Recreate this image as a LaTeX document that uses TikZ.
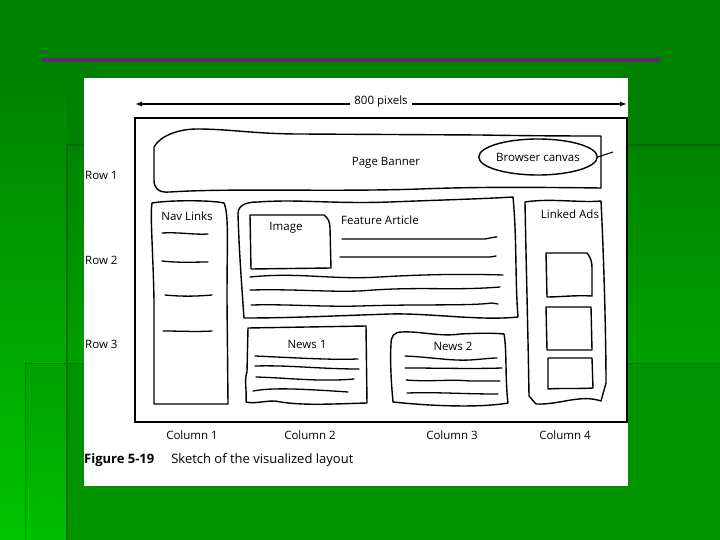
\documentclass[tikz,border=0pt]{standalone}
\usepackage{fontspec}
\setmainfont{Open Sans}
\usetikzlibrary{arrows.meta,shapes.geometric}
\definecolor{gA}{HTML}{008000}
\definecolor{gB}{HTML}{00A000}
\definecolor{gC}{HTML}{00C400}
\definecolor{gD}{HTML}{009200}
\definecolor{gLine}{HTML}{006A00}
\definecolor{purp}{HTML}{5E2A6E}
\tikzset{
  sk/.style={line width=1.4pt, line join=round, line cap=round},
  skl/.style={line width=1.3pt, line cap=round},
  lbl/.style={font=\fontsize{11.5}{12}\selectfont, inner sep=1pt},
}
\begin{document}
\begin{tikzpicture}[x=1pt,y=-1pt]
\useasboundingbox (0,0) rectangle (720,540);
% background
\fill[gA] (0,0) rectangle (720,540);
\shade[top color=gA, bottom color=gC] (0,60) rectangle (67,540);
\shade[top color=gA!90!gB, bottom color=gB] (67,145) rectangle (720,363);
\shade[top color=gD, bottom color=gD!80!gB] (67,363) rectangle (720,540);
\shade[top color=gB, bottom color=gC!85!gB] (25,363) rectangle (67,540);
\draw[gLine, line width=1.2pt] (67,540) -- (67,145) -- (720,145);
\draw[gLine!70!gB, line width=0.8pt] (25,540) -- (25,363) -- (720,363);
% purple rule
\fill[purp] (42,58) rectangle (660,62);
% white panel
\fill[white] (84,78) rectangle (628,486);

% outer canvas
\draw[line width=1.5pt] (135,118) rectangle (627,422);
% width arrow
\node[lbl] (px) at (381,102) {800 pixels};
\coordinate (aL) at (135,104);
\coordinate (aR) at (627,104);
\draw[line width=1.3pt, -{Latex[length=7pt,width=5pt]}] (px.west |- aL) ++(-3,0) -- (aL);
\draw[line width=1.3pt, -{Latex[length=7pt,width=5pt]}] (px.east |- aR) ++(3,0) -- (aR);

% banner
\draw[sk] (154,147) .. controls (160,136) and (178,129) .. (197,129)
  .. controls (230,129) and (255,134) .. (300,134) -- (480,135)
  .. controls (540,136) and (580,136) .. (601,136) -- (601,188)
  .. controls (520,187) and (470,187) .. (420,189)
  .. controls (330,192) and (230,188) .. (170,192)
  .. controls (158,193) and (154,188) .. (154,180) -- cycle;
\node[lbl] (banner) at (386,163) {Page Banner};
\node[sk, draw, ellipse, minimum width=117pt, minimum height=36pt, inner sep=0pt, font=\fontsize{11.5}{12}\selectfont] (bc) at (538,157) {Browser canvas};
\coordinate (bcEnd) at (613,152);
\draw[line width=1.1pt] (bc.east) -- (bcEnd);

% nav links
\draw[sk] (152,203) .. controls (170,200) and (210,200) .. (224,203)
  .. controls (229,215) and (227,240) .. (227,300) -- (228,404) -- (154,404)
  -- (154,300) .. controls (153,250) and (150,215) .. (152,203) -- cycle;
\node[lbl] (nav) at (187,216) {Nav Links};
\draw[skl] (162,233) .. controls (180,232) and (195,235) .. (208,234);
\draw[skl] (162,261) .. controls (180,263) and (195,262) .. (208,262);
\draw[skl] (165,295) .. controls (185,297) and (200,296) .. (212,295);
\draw[skl] (163,331) .. controls (180,331) and (195,332) .. (212,331);

% feature article
\draw[sk] (238,214) .. controls (238,205) and (246,202) .. (258,202)
  .. controls (300,199) and (330,204) .. (390,202)
  .. controls (440,200) and (480,199) .. (513,197)
  .. controls (517,240) and (515,280) .. (518,317)
  .. controls (480,321) and (430,313) .. (390,314)
  .. controls (330,316) and (290,318) .. (244,318)
  .. controls (242,290) and (239,250) .. (238,214) -- cycle;
\draw[sk] (250,215) -- (324,215) .. controls (328,218) and (330,222) .. (330,228)
  -- (331,268) -- (251,269) -- cycle;
\node[lbl] (img) at (286,228) {Image};
\node[lbl, anchor=west] (feat) at (340,220) {Feature Article};
\draw[skl] (342,239) -- (485,239) .. controls (490,238) and (494,237) .. (497,237);
\draw[skl] (340,257) -- (490,257) -- (496,256);
\draw[skl] (250,277) .. controls (300,272) and (330,280) .. (380,277)
  .. controls (430,274) and (470,274) .. (503,275);
\draw[skl] (250,290) .. controls (300,289) and (320,292) .. (360,291)
  .. controls (420,286) and (450,291) .. (500,287);
\draw[skl] (251,305) .. controls (290,304) and (320,307) .. (360,306)
  .. controls (420,304) and (470,306) .. (492,303) -- (498,304);

% news 1
\draw[sk] (248,328) -- (366,326) -- (367,403)
  .. controls (330,404) and (300,406) .. (275,401)
  .. controls (262,401) and (255,404) .. (246,402)
  .. controls (247,390) and (244,380) .. (247,372) -- (248,328);
\node[lbl] (n1) at (307,344) {News 1};
\draw[skl] (255,356) .. controls (300,358) and (330,360) .. (358,359);
\draw[skl] (255,366) .. controls (290,365) and (320,369) .. (359,369);
\draw[skl] (256,377) .. controls (290,378) and (320,382) .. (354,379);
\draw[skl] (253,391) .. controls (270,388) and (290,388) .. (348,392);

% news 2
\draw[sk] (391,344) .. controls (391,336) and (394,332) .. (402,332)
  .. controls (420,331) and (440,337) .. (460,334)
  .. controls (480,333) and (495,333) .. (504,334)
  .. controls (507,350) and (505,380) .. (508,403)
  .. controls (480,408) and (430,406) .. (393,402)
  .. controls (391,380) and (390,360) .. (391,344) -- cycle;
\node[lbl] (n2) at (453,346) {News 2};
\draw[skl] (405,356) .. controls (430,357) and (450,361) .. (470,360)
  .. controls (485,359) and (490,358) .. (497,358);
\draw[skl] (405,368) .. controls (440,368) and (470,369) .. (502,368);
\draw[skl] (406,380) .. controls (430,382) and (450,379) .. (470,381) -- (500,381);
\draw[skl] (407,393) .. controls (440,392) and (460,394) .. (498,394);

% linked ads
\draw[sk] (525,202) .. controls (550,198) and (580,203) .. (601,201)
  .. controls (604,260) and (606,340) .. (606,383) -- (601,401)
  .. controls (580,394) and (560,405) .. (536,404) -- (529,396)
  .. controls (528,330) and (526,260) .. (525,202) -- cycle;
\node[lbl] (ads) at (570,214) {Linked Ads};
\draw[sk] (546,253) -- (587,253) .. controls (591,258) and (592,262) .. (592,268)
  -- (592,296) .. controls (575,295) and (560,297) .. (547,297) -- cycle;
\draw[sk] (546,307) -- (591,307) -- (592,350) -- (547,350) -- cycle;
\draw[sk] (548,358) -- (592,358) -- (593,388) .. controls (575,389) and (560,388) .. (548,389) -- cycle;

% row and column labels
\node[lbl, anchor=west] (r1) at (84,175) {Row 1};
\node[lbl, anchor=west] (r2) at (84,260) {Row 2};
\node[lbl, anchor=west] (r3) at (84,344) {Row 3};
\node[lbl] (c1) at (192,435) {Column 1};
\node[lbl] (c2) at (310,435) {Column 2};
\node[lbl] (c3) at (452,435) {Column 3};
\node[lbl] (c4) at (565,435) {Column 4};
\node[anchor=west, inner sep=0pt, font=\fontsize{13}{14}\selectfont] (cap) at (84,460)
  {\textbf{Figure 5-19}\hspace{17pt}Sketch of the visualized layout};
\end{tikzpicture}
\end{document}
